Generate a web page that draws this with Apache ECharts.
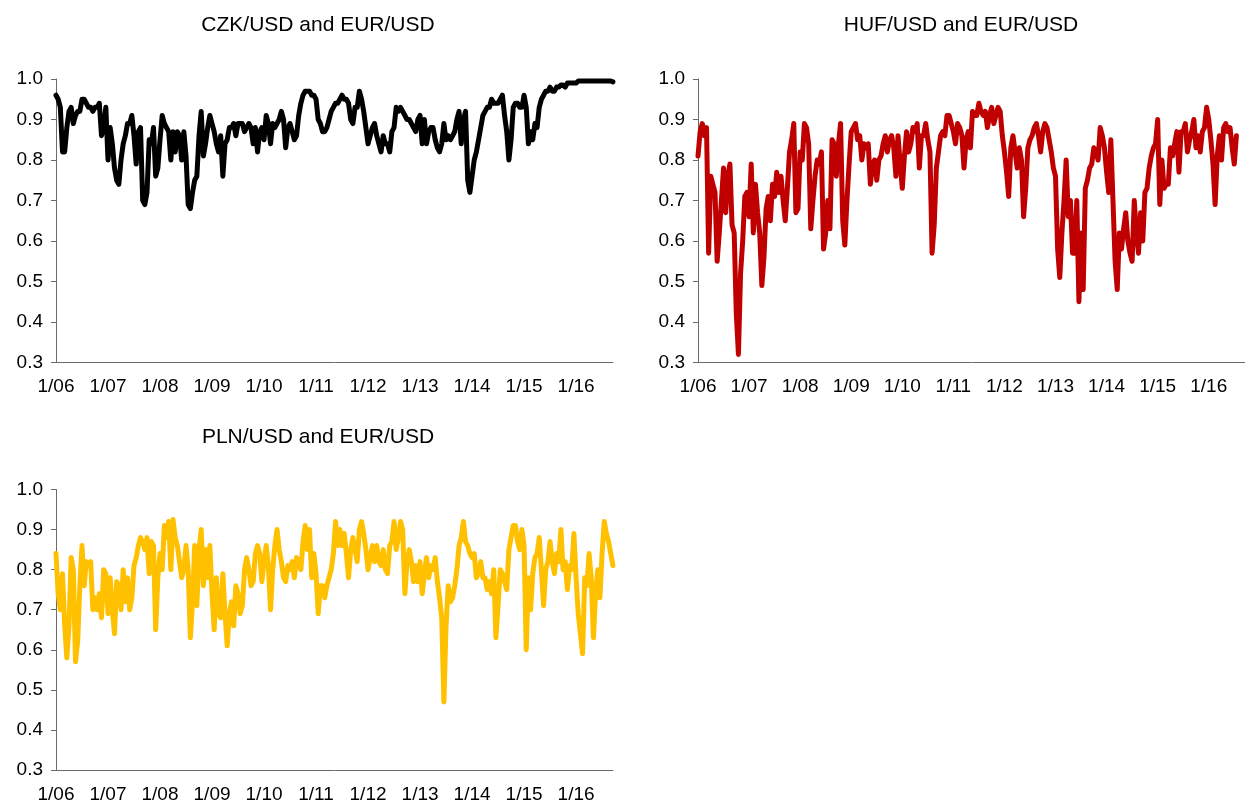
<!DOCTYPE html>
<html>
<head>
<meta charset="utf-8">
<title>Rolling correlations with EUR/USD</title>
<script src="https://cdn.jsdelivr.net/npm/echarts/dist/echarts.min.js"></script>
<style>
  html, body { margin: 0; padding: 0; background: #ffffff; }
  #chart { width: 1245px; height: 804px; }
</style>
</head>
<body>
<div id="chart"></div>
<script>
// Semi-monthly observations starting January 2006
const START_YEAR = 2006;
const STEPS_PER_YEAR = 24;

const yearLabels = ['1/06', '1/07', '1/08', '1/09', '1/10', '1/11', '1/12', '1/13', '1/14', '1/15', '1/16'];
const panelTitles = ['CZK/USD and EUR/USD', 'HUF/USD and EUR/USD', 'PLN/USD and EUR/USD'];

// Correlation of CZK/USD with EUR/USD
const czkEur = [
  0.96, 0.95, 0.93, 0.82, 0.82, 0.88, 0.92, 0.93, 0.89, 0.91,
  0.92, 0.92, 0.95, 0.95, 0.94, 0.93, 0.93, 0.92, 0.93, 0.93,
  0.94, 0.86, 0.88, 0.93, 0.80, 0.88, 0.84, 0.78, 0.75, 0.74,
  0.80, 0.84, 0.86, 0.89, 0.89, 0.91, 0.86, 0.79, 0.87, 0.88,
  0.70, 0.69, 0.72, 0.85, 0.84, 0.88, 0.76, 0.78, 0.85, 0.91,
  0.89, 0.88, 0.87, 0.80, 0.87, 0.82, 0.87, 0.86, 0.80, 0.87,
  0.81, 0.69, 0.68, 0.72, 0.75, 0.76, 0.86, 0.92, 0.81, 0.84,
  0.88, 0.91, 0.89, 0.87, 0.84, 0.82, 0.86, 0.76, 0.84, 0.85,
  0.88, 0.88, 0.89, 0.86, 0.89, 0.89, 0.89, 0.87, 0.88, 0.89,
  0.88, 0.84, 0.88, 0.82, 0.87, 0.88, 0.85, 0.91, 0.89, 0.84,
  0.89, 0.88, 0.89, 0.90, 0.92, 0.90, 0.83, 0.88, 0.89, 0.87,
  0.85, 0.86, 0.91, 0.94, 0.96, 0.97, 0.97, 0.97, 0.96, 0.96,
  0.95, 0.90, 0.89, 0.87, 0.87, 0.88, 0.90, 0.92, 0.93, 0.94,
  0.94, 0.95, 0.96, 0.95, 0.95, 0.94, 0.90, 0.89, 0.93, 0.93,
  0.97, 0.95, 0.92, 0.88, 0.84, 0.86, 0.88, 0.89, 0.86, 0.84,
  0.82, 0.86, 0.84, 0.84, 0.82, 0.87, 0.88, 0.93, 0.92, 0.93,
  0.92, 0.91, 0.90, 0.90, 0.89, 0.88, 0.87, 0.90, 0.91, 0.84,
  0.90, 0.84, 0.87, 0.88, 0.88, 0.85, 0.83, 0.82, 0.84, 0.89,
  0.85, 0.86, 0.85, 0.86, 0.87, 0.90, 0.92, 0.84, 0.90, 0.92,
  0.75, 0.72, 0.76, 0.80, 0.82, 0.85, 0.88, 0.91, 0.92, 0.93,
  0.93, 0.95, 0.94, 0.94, 0.94, 0.95, 0.96, 0.91, 0.87, 0.80,
  0.85, 0.93, 0.94, 0.94, 0.93, 0.93, 0.96, 0.93, 0.84, 0.87,
  0.85, 0.89, 0.88, 0.93, 0.95, 0.96, 0.97, 0.97, 0.98, 0.97,
  0.97, 0.98, 0.98, 0.985, 0.985, 0.98, 0.99, 0.99, 0.99, 0.99,
  0.99, 0.995, 0.995, 0.995, 0.995, 0.995, 0.995, 0.995, 0.995, 0.995,
  0.995, 0.995, 0.995, 0.995, 0.995, 0.995, 0.995, 0.993
];

// Correlation of HUF/USD with EUR/USD
const hufEur = [
  0.81, 0.87, 0.89, 0.86, 0.88, 0.57, 0.76, 0.74, 0.72, 0.55,
  0.62, 0.70, 0.78, 0.67, 0.76, 0.79, 0.64, 0.62, 0.42, 0.32,
  0.52, 0.60, 0.71, 0.72, 0.66, 0.79, 0.62, 0.74, 0.67, 0.62,
  0.49, 0.56, 0.68, 0.71, 0.65, 0.74, 0.71, 0.77, 0.72, 0.76,
  0.70, 0.65, 0.73, 0.82, 0.85, 0.89, 0.67, 0.68, 0.82, 0.80,
  0.89, 0.88, 0.84, 0.63, 0.70, 0.76, 0.80, 0.79, 0.82, 0.58,
  0.62, 0.70, 0.63, 0.85, 0.84, 0.76, 0.84, 0.89, 0.65, 0.59,
  0.70, 0.79, 0.87, 0.88, 0.89, 0.85, 0.86, 0.80, 0.84, 0.83,
  0.84, 0.74, 0.79, 0.80, 0.75, 0.80, 0.81, 0.84, 0.86, 0.82,
  0.85, 0.86, 0.83, 0.76, 0.86, 0.79, 0.73, 0.81, 0.87, 0.82,
  0.84, 0.88, 0.87, 0.89, 0.78, 0.86, 0.86, 0.89, 0.85, 0.82,
  0.57, 0.64, 0.78, 0.82, 0.86, 0.87, 0.86, 0.91, 0.91, 0.89,
  0.87, 0.84, 0.89, 0.88, 0.86, 0.78, 0.85, 0.87, 0.83, 0.92,
  0.91, 0.91, 0.94, 0.92, 0.91, 0.92, 0.88, 0.91, 0.93, 0.89,
  0.91, 0.93, 0.92, 0.86, 0.82, 0.77, 0.71, 0.83, 0.86, 0.82,
  0.78, 0.83, 0.80, 0.66, 0.73, 0.83, 0.85, 0.86, 0.88, 0.89,
  0.86, 0.82, 0.87, 0.89, 0.88, 0.85, 0.82, 0.78, 0.76, 0.58,
  0.51, 0.62, 0.70, 0.80, 0.66, 0.70, 0.57, 0.57, 0.70, 0.45,
  0.62, 0.48, 0.73, 0.75, 0.78, 0.79, 0.83, 0.82, 0.80, 0.88,
  0.86, 0.83, 0.77, 0.72, 0.85, 0.70, 0.55, 0.48, 0.62, 0.58,
  0.63, 0.67, 0.60, 0.57, 0.55, 0.70, 0.62, 0.57, 0.67, 0.60,
  0.72, 0.73, 0.78, 0.81, 0.83, 0.84, 0.90, 0.69, 0.80, 0.73,
  0.74, 0.74, 0.83, 0.81, 0.84, 0.87, 0.77, 0.87, 0.87, 0.89,
  0.82, 0.85, 0.87, 0.90, 0.83, 0.86, 0.82, 0.87, 0.88, 0.93,
  0.90, 0.85, 0.79, 0.69, 0.81, 0.86, 0.80, 0.88, 0.89, 0.87,
  0.88, 0.83, 0.79, 0.86
];

// Correlation of PLN/USD with EUR/USD
const plnEur = [
  0.84, 0.74, 0.70, 0.79, 0.66, 0.58, 0.66, 0.83, 0.80, 0.57,
  0.62, 0.76, 0.86, 0.76, 0.82, 0.81, 0.82, 0.70, 0.73, 0.70,
  0.74, 0.68, 0.80, 0.79, 0.69, 0.78, 0.70, 0.64, 0.77, 0.76,
  0.70, 0.80, 0.72, 0.78, 0.70, 0.73, 0.81, 0.83, 0.86, 0.88,
  0.87, 0.85, 0.88, 0.79, 0.87, 0.86, 0.65, 0.78, 0.84, 0.80,
  0.91, 0.88, 0.92, 0.80, 0.925, 0.88, 0.86, 0.82, 0.78, 0.80,
  0.86, 0.80, 0.63, 0.72, 0.86, 0.71, 0.85, 0.90, 0.76, 0.85,
  0.78, 0.86, 0.74, 0.65, 0.78, 0.69, 0.68, 0.79, 0.69, 0.61,
  0.69, 0.72, 0.66, 0.76, 0.74, 0.69, 0.71, 0.80, 0.83, 0.80,
  0.76, 0.77, 0.84, 0.86, 0.84, 0.77, 0.82, 0.86, 0.81, 0.70,
  0.80, 0.86, 0.90, 0.85, 0.82, 0.78, 0.77, 0.81, 0.80, 0.82,
  0.78, 0.83, 0.82, 0.80, 0.87, 0.91, 0.85, 0.90, 0.78, 0.84,
  0.79, 0.69, 0.76, 0.76, 0.73, 0.76, 0.78, 0.80, 0.84, 0.92,
  0.86, 0.90, 0.86, 0.89, 0.84, 0.78, 0.85, 0.88, 0.85, 0.82,
  0.90, 0.92, 0.89, 0.85, 0.80, 0.83, 0.86, 0.82, 0.86, 0.82,
  0.81, 0.85, 0.80, 0.79, 0.86, 0.87, 0.92, 0.85, 0.88, 0.92,
  0.90, 0.74, 0.82, 0.85, 0.82, 0.77, 0.81, 0.77, 0.82, 0.74,
  0.79, 0.83, 0.78, 0.81, 0.80, 0.83, 0.77, 0.73, 0.68, 0.47,
  0.66, 0.76, 0.72, 0.73, 0.76, 0.80, 0.86, 0.88, 0.92, 0.87,
  0.86, 0.84, 0.83, 0.84, 0.78, 0.79, 0.82, 0.78, 0.78, 0.75,
  0.77, 0.74, 0.80, 0.63, 0.71, 0.80, 0.79, 0.77, 0.75, 0.85,
  0.88, 0.91, 0.91, 0.87, 0.85, 0.90, 0.86, 0.60, 0.78, 0.70,
  0.79, 0.83, 0.84, 0.88, 0.80, 0.71, 0.80, 0.82, 0.87, 0.82,
  0.79, 0.84, 0.82, 0.90, 0.80, 0.82, 0.75, 0.81, 0.80, 0.89,
  0.78, 0.69, 0.64, 0.59, 0.78, 0.76, 0.84, 0.78, 0.63, 0.74,
  0.80, 0.73, 0.84, 0.92, 0.89, 0.87, 0.84, 0.81
];

const FONT = '"Liberation Sans", Arial, Helvetica, sans-serif';
const AXIS_COLOR = '#6b6b6b';

// Panel placement on the page
const panels = [
  { values: czkEur, color: '#000000', left: 56,  top: 79,    titleX: 318, titleY: 25 },
  { values: hufEur, color: '#c00000', left: 698, top: 79,    titleX: 961, titleY: 25 },
  { values: plnEur, color: '#ffc000', left: 56,  top: 489.5, titleX: 318, titleY: 437 }
];

const toPairs = vals => vals.map((v, i) => [START_YEAR + i / STEPS_PER_YEAR, v]);

const option = {
  animation: false,
  backgroundColor: '#ffffff',
  textStyle: { fontFamily: FONT },
  grid: panels.map(p => ({ left: p.left, top: p.top, width: 557, height: 283.5, containLabel: false })),
  xAxis: panels.map((p, k) => ({
    type: 'value',
    gridIndex: k,
    min: START_YEAR,
    max: 2016.71,
    interval: 1,
    splitLine: { show: false },
    axisTick: { show: false },
    axisLine: { show: true, onZero: false, lineStyle: { color: AXIS_COLOR, width: 1 } },
    axisLabel: {
      color: '#000',
      fontSize: 19,
      fontFamily: FONT,
      margin: 15,
      showMaxLabel: false,
      formatter: v => {
        const idx = Math.round(v - START_YEAR);
        return Math.abs(v - START_YEAR - idx) < 1e-6 && yearLabels[idx] ? yearLabels[idx] : '';
      }
    }
  })),
  yAxis: panels.map((p, k) => ({
    type: 'value',
    gridIndex: k,
    min: 0.3,
    max: 1.0,
    interval: 0.1,
    splitLine: { show: false },
    axisLine: { show: true, lineStyle: { color: AXIS_COLOR, width: 1 } },
    axisTick: { show: true, inside: false, length: 5, lineStyle: { color: AXIS_COLOR } },
    axisLabel: {
      color: '#000',
      fontSize: 19,
      fontFamily: FONT,
      margin: 13,
      formatter: v => v.toFixed(1)
    }
  })),
  series: panels.map((p, k) => ({
    type: 'line',
    xAxisIndex: k,
    yAxisIndex: k,
    data: toPairs(p.values),
    showSymbol: false,
    symbol: 'none',
    clip: true,
    lineStyle: { color: p.color, width: 5, join: 'round', cap: 'round' },
    emphasis: { disabled: true }
  })),
  graphic: panels.map((p, k) => ({
    type: 'text',
    x: p.titleX,
    y: p.titleY,
    style: {
      text: panelTitles[k],
      fill: '#000',
      font: '21px ' + FONT,
      align: 'center',
      verticalAlign: 'middle'
    }
  }))
};

const chart = echarts.init(document.getElementById('chart'), null, { renderer: 'canvas' });
chart.setOption(option);
</script>
</body>
</html>
